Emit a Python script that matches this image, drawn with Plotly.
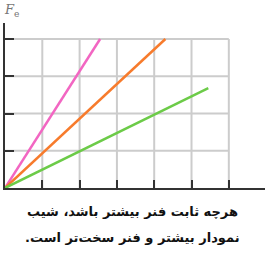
import plotly.graph_objects as go

# data
series_names = ["pink", "orange", "green"]
pink_x = [0, 2.55]
pink_y = [0, 4.0]
orange_x = [0, 4.3]
orange_y = [0, 4.0]
green_x = [0, 5.45]
green_y = [0, 2.68]
x_ticks = [1, 2, 3, 4, 5, 6]
y_ticks = [1, 2, 3, 4]
grid_x_max = 6
grid_y_max = 4
y_label = "<i>F</i><sub>e</sub>"
caption_lines = ["هرچه ثابت فنر بیشتر باشد، شیب", "نمودار بیشتر و فنر سخت‌تر است."]

colors = {"pink": "#f266c2", "orange": "#f77b2c", "green": "#6ccb48"}

fig = go.Figure()

shapes = []
for xv in x_ticks:
    shapes.append(dict(type="line", xref="x", yref="y", x0=xv, x1=xv, y0=0, y1=grid_y_max,
                       line=dict(color="#cccccc", width=2), layer="below"))
for yv in y_ticks:
    shapes.append(dict(type="line", xref="x", yref="y", x0=0, x1=grid_x_max, y0=yv, y1=yv,
                       line=dict(color="#cccccc", width=2), layer="below"))

for name, xs, ys in [("pink", pink_x, pink_y), ("orange", orange_x, orange_y), ("green", green_x, green_y)]:
    fig.add_trace(go.Scatter(x=xs, y=ys, mode="lines", line=dict(color=colors[name], width=2.5),
                             showlegend=False, hoverinfo="skip", cliponaxis=False))

annotations = [
    dict(text=y_label, xref="paper", yref="paper", x=-0.012, y=1.01, xanchor="left", yanchor="bottom",
         showarrow=False, font=dict(family="DejaVu Serif", size=13, color="#777777")),
]
for line, ypos in zip(caption_lines, [-0.145, -0.30]):
    annotations.append(dict(text="<b>" + line + "\u200f</b>", xref="paper", yref="paper",
                            x=0.49, y=ypos, xanchor="center", yanchor="middle",
                            showarrow=False, align="center",
                            font=dict(family="DejaVu Sans", size=13, color="#111111")))

fig.update_layout(
    width=266, height=257,
    margin=dict(l=5, r=1, t=23, b=69),
    paper_bgcolor="white", plot_bgcolor="white",
    shapes=shapes,
    xaxis=dict(range=[0, 6.97], showgrid=False, zeroline=False, showline=True, linecolor="#333333",
               linewidth=2, ticks="inside", tickvals=x_ticks, ticklen=8, tickwidth=2, tickcolor="#333333",
               showticklabels=False, fixedrange=True),
    yaxis=dict(range=[0, 4.43], showgrid=False, zeroline=False, showline=True, linecolor="#333333",
               linewidth=2, ticks="inside", tickvals=y_ticks, ticklen=9, tickwidth=2, tickcolor="#333333",
               showticklabels=False, fixedrange=True),
    annotations=annotations,
)

fig.write_html("out.html", config={"displayModeBar": False},
               post_script="document.body.style.margin='0';document.body.style.overflow='hidden';")
